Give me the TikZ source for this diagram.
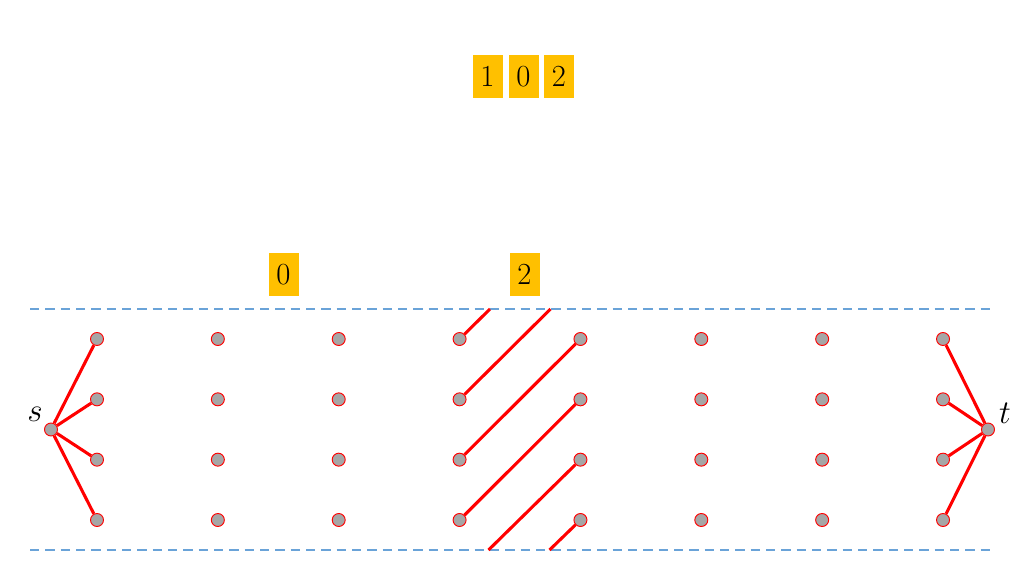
\documentclass[tikz,border=0pt]{standalone}
\usepackage{fontspec}
\definecolor{gold}{HTML}{FFC000}
\definecolor{dashblue}{HTML}{6AA3D8}
\definecolor{dotgray}{HTML}{A6A6A6}
\definecolor{edgered}{HTML}{FF0000}
\begin{document}
\begin{tikzpicture}[x=0.75pt,y=-0.75pt,
  digitbox/.style={fill=gold,minimum width=30*0.75pt,minimum height=43*0.75pt,inner sep=0pt,font=\fontsize{23}{27}\selectfont},
  dot/.style={circle,fill=dotgray,draw=edgered,line width=0.7pt,minimum size=13*0.75pt,inner sep=0pt},
  redge/.style={draw=edgered,line width=2.3pt},
  bound/.style={draw=dashblue,line width=1.1pt,dash pattern=on 7pt off 4.5pt},
  lbl/.style={font=\fontsize{26}{30}\selectfont,inner sep=0pt}]
\useasboundingbox (0,0) rectangle (1024,576);
% top digits
\node[digitbox] (d1) at (487.5,76.5) {1};
\node[digitbox] (d2) at (523.5,76.5) {0};
\node[digitbox] (d3) at (559,76.5) {2};
% labels above columns
\node[digitbox] (la) at (283.5,274.5) {0};
\node[digitbox] (lb) at (524.5,274.5) {2};
% dashed boundaries
\coordinate (tl) at (30,309);
\coordinate (tr) at (995,309);
\coordinate (bl) at (30,550);
\coordinate (br) at (995,550);
\draw[bound] (tl) -- (tr);
\draw[bound] (bl) -- (br);
% grid nodes
\foreach \i in {0,...,7}{
  \foreach \j in {0,...,3}{
    \node[dot] (n-\i-\j) at ({97+120.86*\i},{339+60.33*\j}) {};
  }
}
\node[dot] (s) at (51,429.5) {};
\node[dot] (t) at (988,429.5) {};
\node[lbl] (sl) at (35,414) {$s$};
\node[lbl] (tl2) at (1005,413) {$t$};
% edges from s and to t
\foreach \j in {0,...,3}{
  \draw[redge] (s) -- (n-0-\j);
  \draw[redge] (t) -- (n-7-\j);
}
% diagonal edges between columns 3 and 4
\draw[redge] (n-3-2) -- (n-4-0);
\draw[redge] (n-3-3) -- (n-4-1);
% wrap-around edges
\coordinate (w1) at (490,309);
\coordinate (w2) at (550.5,309);
\coordinate (w3) at (488.5,550);
\coordinate (w4) at (549.5,550);
\draw[redge] (n-3-0) -- (w1);
\draw[redge] (n-3-1) -- (w2);
\draw[redge] (w3) -- (n-4-2);
\draw[redge] (w4) -- (n-4-3);
\end{tikzpicture}
\end{document}
